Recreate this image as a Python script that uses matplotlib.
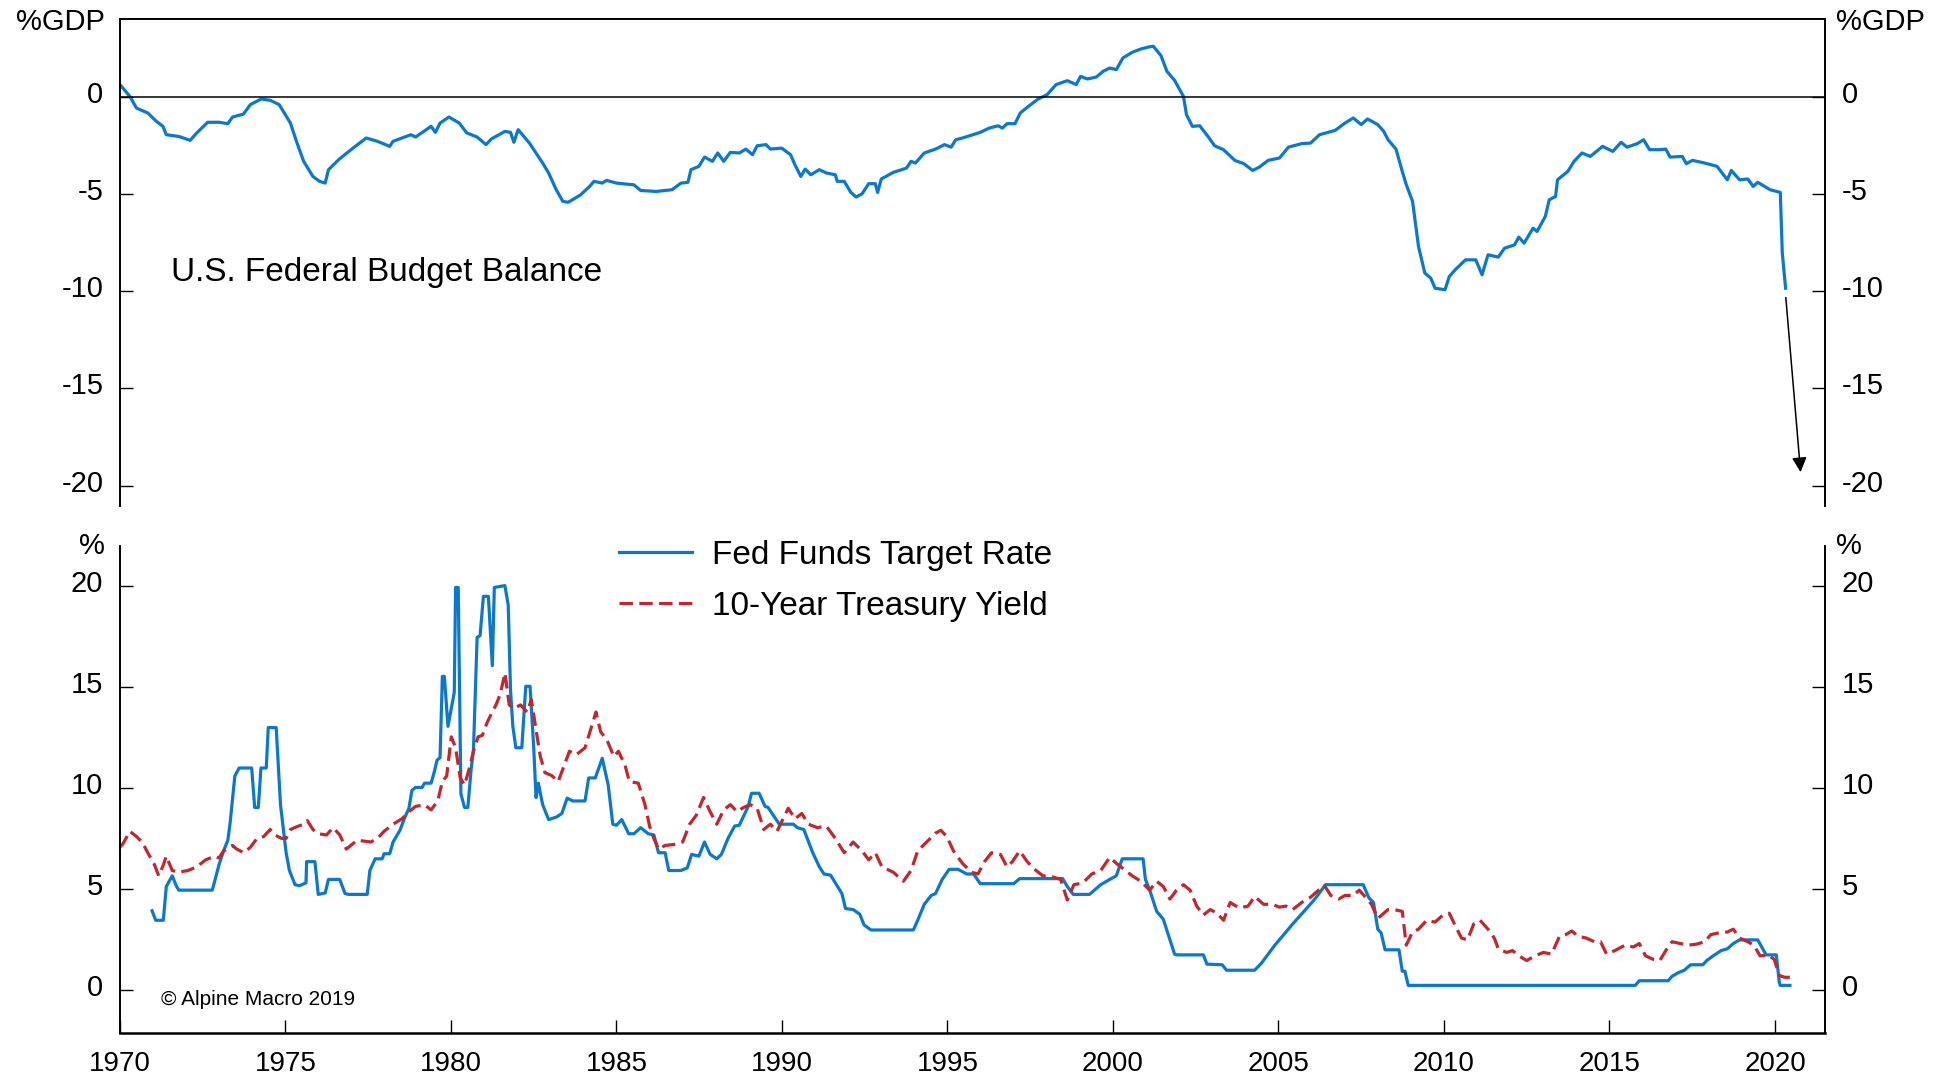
import numpy as np
import matplotlib
matplotlib.use('Agg')
import matplotlib.pyplot as plt
from matplotlib.transforms import ScaledTranslation

plt.rcParams['font.family'] = ['Liberation Sans', 'DejaVu Sans']

# US federal budget balance, % of GDP (12m sum)
budget_year = [1970.03, 1970.3, 1970.5, 1970.84, 1971.1, 1971.3, 1971.4, 1971.78, 1972.12, 1972.32,
               1972.65, 1972.99, 1973.26, 1973.4, 1973.73, 1973.94, 1974.27, 1974.54, 1974.81, 1975.15,
               1975.35, 1975.55, 1975.83, 1976.03, 1976.2, 1976.3, 1976.63, 1977.04, 1977.44, 1977.78,
               1978.15, 1978.25, 1978.79, 1978.93, 1979.4, 1979.53, 1979.67, 1979.94, 1980.25, 1980.48,
               1980.79, 1981.06, 1981.22, 1981.63, 1981.8, 1981.9, 1982.03, 1982.37, 1982.77, 1982.95,
               1983.18, 1983.38, 1983.54, 1983.92, 1984.19, 1984.32, 1984.57, 1984.7, 1985.0, 1985.53,
               1985.73, 1986.2, 1986.68, 1986.95, 1987.16, 1987.25, 1987.49, 1987.66, 1987.9, 1988.06,
               1988.24, 1988.44, 1988.71, 1988.91, 1989.11, 1989.25, 1989.52, 1989.65, 1989.99, 1990.26,
               1990.39, 1990.57, 1990.7, 1990.87, 1991.13, 1991.34, 1991.61, 1991.67, 1991.88, 1992.08,
               1992.24, 1992.42, 1992.62, 1992.82, 1992.89, 1993.0, 1993.36, 1993.76, 1993.9, 1994.03,
               1994.3, 1994.64, 1994.91, 1995.11, 1995.25, 1995.45, 1995.99, 1996.26, 1996.53, 1996.66,
               1996.8, 1997.04, 1997.2, 1997.47, 1997.74, 1998.01, 1998.28, 1998.62, 1998.89, 1999.02,
               1999.23, 1999.5, 1999.7, 1999.9, 2000.1, 2000.3, 2000.58, 2000.84, 2001.09, 2001.22,
               2001.45, 2001.63, 2001.86, 2002.13, 2002.22, 2002.4, 2002.62, 2002.87, 2003.07, 2003.34,
               2003.68, 2003.95, 2004.22, 2004.42, 2004.69, 2005.03, 2005.3, 2005.7, 2005.97, 2006.24,
               2006.71, 2007.01, 2007.26, 2007.5, 2007.69, 2008.0, 2008.18, 2008.31, 2008.55, 2008.74,
               2008.86, 2009.05, 2009.23, 2009.42, 2009.6, 2009.73, 2010.03, 2010.16, 2010.34, 2010.65,
               2010.96, 2011.15, 2011.33, 2011.64, 2011.83, 2012.13, 2012.26, 2012.42, 2012.69, 2012.81,
               2013.06, 2013.18, 2013.37, 2013.43, 2013.74, 2013.93, 2014.17, 2014.42, 2014.79, 2015.1,
               2015.35, 2015.53, 2015.84, 2016.03, 2016.21, 2016.52, 2016.7, 2016.83, 2017.2, 2017.32,
               2017.51, 2017.88, 2018.25, 2018.56, 2018.68, 2018.93, 2019.18, 2019.34, 2019.48, 2019.85,
               2020.16, 2020.22, 2020.32]
budget_val = [0.58, 0.03, -0.57, -0.82, -1.25, -1.51, -1.94, -2.03, -2.23, -1.85,
              -1.30, -1.30, -1.37, -1.03, -0.88, -0.39, -0.10, -0.17, -0.39, -1.34,
              -2.37, -3.31, -4.09, -4.34, -4.43, -3.74, -3.19, -2.63, -2.11, -2.28,
              -2.54, -2.28, -1.94, -2.06, -1.51, -1.82, -1.34, -1.03, -1.34, -1.85,
              -2.06, -2.45, -2.16, -1.77, -1.82, -2.33, -1.68, -2.37, -3.40, -3.91,
              -4.77, -5.37, -5.42, -5.03, -4.60, -4.34, -4.43, -4.29, -4.43, -4.52,
              -4.81, -4.86, -4.77, -4.43, -4.39, -3.74, -3.57, -3.09, -3.31, -2.88,
              -3.31, -2.85, -2.88, -2.68, -2.97, -2.51, -2.45, -2.68, -2.63, -2.97,
              -3.48, -4.09, -3.71, -4.00, -3.74, -3.91, -4.00, -4.34, -4.34, -4.91,
              -5.15, -4.98, -4.46, -4.46, -4.91, -4.22, -3.88, -3.66, -3.31, -3.40,
              -2.88, -2.68, -2.45, -2.58, -2.20, -2.11, -1.82, -1.60, -1.48, -1.60,
              -1.37, -1.37, -0.82, -0.45, -0.10, 0.12, 0.64, 0.84, 0.64, 1.06,
              0.93, 1.03, 1.32, 1.49, 1.41, 2.01, 2.30, 2.47, 2.58, 2.61,
              2.13, 1.32, 0.86, 0.03, -0.91, -1.51, -1.48, -2.03, -2.51, -2.71,
              -3.26, -3.43, -3.78, -3.61, -3.26, -3.14, -2.58, -2.40, -2.37, -1.94,
              -1.72, -1.34, -1.08, -1.42, -1.13, -1.42, -1.77, -2.20, -2.68, -3.83,
              -4.51, -5.37, -7.69, -9.06, -9.32, -9.84, -9.92, -9.24, -8.89, -8.38,
              -8.38, -9.15, -8.12, -8.24, -7.78, -7.61, -7.21, -7.52, -6.75, -6.92,
              -6.15, -5.29, -5.12, -4.26, -3.83, -3.31, -2.88, -3.06, -2.54, -2.80,
              -2.33, -2.58, -2.40, -2.20, -2.71, -2.71, -2.68, -3.09, -3.06, -3.43,
              -3.26, -3.40, -3.57, -4.26, -3.78, -4.26, -4.22, -4.60, -4.39, -4.77,
              -4.91, -8.03, -9.84]

# arrow: projected deficit
arrow_start = (2020.32, -10.18)
arrow_end = (2020.78, -19.45)

# Fed funds target rate, %
ff_year = [1970.97, 1971.08, 1971.31, 1971.4, 1971.58, 1971.71, 1971.78, 1972.79, 1972.99, 1973.13,
           1973.26, 1973.33, 1973.47, 1973.6, 1973.98, 1974.07, 1974.18, 1974.26, 1974.42, 1974.48,
           1974.72, 1974.85, 1975.02, 1975.12, 1975.29, 1975.42, 1975.62, 1975.64, 1975.89, 1975.99,
           1976.2, 1976.3, 1976.64, 1976.8, 1976.91, 1977.47, 1977.55, 1977.71, 1977.92, 1977.98,
           1978.15, 1978.25, 1978.46, 1978.59, 1978.73, 1978.82, 1978.93, 1979.13, 1979.2, 1979.4,
           1979.49, 1979.58, 1979.67, 1979.74, 1979.8, 1979.91, 1980.01, 1980.1, 1980.14, 1980.22,
           1980.3, 1980.41, 1980.51, 1980.61, 1980.68, 1980.79, 1980.88, 1980.98, 1981.13, 1981.25,
           1981.31, 1981.63, 1981.73, 1981.8, 1981.87, 1981.96, 1982.14, 1982.26, 1982.39, 1982.5,
           1982.57, 1982.64, 1982.77, 1982.95, 1983.18, 1983.35, 1983.51, 1983.68, 1984.05, 1984.16,
           1984.36, 1984.57, 1984.75, 1984.89, 1985.0, 1985.16, 1985.37, 1985.53, 1985.73, 1985.96,
           1986.13, 1986.27, 1986.47, 1986.58, 1986.94, 1987.14, 1987.27, 1987.49, 1987.66, 1987.83,
           1988.03, 1988.17, 1988.37, 1988.57, 1988.71, 1988.98, 1989.08, 1989.31, 1989.49, 1989.58,
           1989.92, 1990.35, 1990.46, 1990.66, 1990.93, 1991.13, 1991.27, 1991.47, 1991.81, 1991.92,
           1992.15, 1992.35, 1992.48, 1992.69, 1993.97, 1994.1, 1994.3, 1994.51, 1994.64, 1994.84,
           1995.05, 1995.32, 1995.58, 1995.79, 1995.99, 1997.0, 1997.18, 1998.48, 1998.62, 1998.8,
           1999.29, 1999.5, 1999.63, 1999.9, 2000.1, 2000.28, 2000.91, 2000.98, 2001.11, 2001.32,
           2001.52, 2001.86, 2001.92, 2002.73, 2002.84, 2003.3, 2003.43, 2004.28, 2004.49, 2004.69,
           2004.89, 2005.16, 2005.43, 2005.77, 2006.1, 2006.42, 2007.56, 2007.73, 2007.87, 2008.0,
           2008.1, 2008.22, 2008.64, 2008.74, 2008.82, 2008.92, 2015.78, 2015.9, 2016.77, 2016.89,
           2017.08, 2017.26, 2017.45, 2017.82, 2017.94, 2018.13, 2018.37, 2018.56, 2018.74, 2018.93,
           2019.48, 2019.73, 2020.04, 2020.13, 2020.16, 2020.45]
ff_val = [3.94, 3.47, 3.47, 5.14, 5.67, 5.14, 4.96, 4.96, 6.20, 6.90,
          7.43, 8.31, 10.6, 11.0, 11.0, 9.05, 9.05, 11.0, 11.0, 13.0,
          13.0, 9.19, 6.81, 5.93, 5.23, 5.18, 5.32, 6.37, 6.37, 4.75,
          4.82, 5.49, 5.49, 4.79, 4.75, 4.75, 5.93, 6.51, 6.51, 6.76,
          6.76, 7.34, 7.92, 8.49, 9.01, 9.89, 10.04, 10.04, 10.25, 10.25,
          10.77, 11.39, 11.51, 15.53, 15.53, 13.06, 13.94, 14.74, 19.93, 19.93,
          9.72, 9.05, 9.05, 10.95, 11.92, 17.46, 17.55, 19.49, 19.49, 16.06,
          19.93, 20.02, 19.05, 14.82, 13.06, 12.0, 12.0, 15.04, 15.04, 12.0,
          9.54, 10.25, 9.19, 8.45, 8.57, 8.75, 9.51, 9.37, 9.37, 10.51,
          10.51, 11.48, 10.16, 8.22, 8.17, 8.45, 7.75, 7.75, 8.05, 7.75,
          7.69, 6.81, 6.81, 5.93, 5.93, 6.06, 6.73, 6.64, 7.34, 6.73,
          6.51, 6.73, 7.52, 8.13, 8.17, 9.1, 9.75, 9.75, 9.1, 9.05,
          8.22, 8.22, 8.05, 7.96, 6.81, 6.11, 5.76, 5.70, 4.79, 4.05,
          4.0, 3.77, 3.24, 2.99, 2.99, 3.47, 4.26, 4.70, 4.79, 5.49,
          5.99, 5.99, 5.76, 5.76, 5.28, 5.28, 5.53, 5.53, 5.14, 4.75,
          4.75, 5.05, 5.23, 5.49, 5.67, 6.51, 6.51, 5.49, 4.96, 3.91,
          3.52, 1.80, 1.76, 1.76, 1.30, 1.27, 1.0, 1.0, 1.36, 1.80,
          2.24, 2.76, 3.29, 3.91, 4.52, 5.23, 5.23, 4.58, 4.35, 3.03,
          2.85, 2.01, 2.01, 0.95, 0.95, 0.25, 0.25, 0.48, 0.48, 0.70,
          0.88, 1.0, 1.27, 1.27, 1.48, 1.71, 1.97, 2.06, 2.32, 2.5,
          2.5, 1.76, 1.76, 0.39, 0.25, 0.25]

# 10-year Treasury yield, %
ty_year = [1970.0, 1970.09, 1970.3, 1970.5, 1970.67, 1970.84, 1971.04, 1971.17, 1971.31, 1971.4,
           1971.58, 1971.78, 1972.05, 1972.32, 1972.59, 1972.86, 1972.99, 1973.13, 1973.4, 1973.53,
           1973.74, 1973.94, 1974.14, 1974.34, 1974.54, 1974.68, 1974.88, 1975.02, 1975.15, 1975.35,
           1975.55, 1975.66, 1975.83, 1975.99, 1976.24, 1976.44, 1976.64, 1976.84, 1976.97, 1977.17,
           1977.58, 1977.78, 1977.98, 1978.25, 1978.52, 1978.73, 1978.93, 1979.2, 1979.4, 1979.6,
           1979.74, 1979.87, 1980.01, 1980.14, 1980.28, 1980.41, 1980.55, 1980.68, 1980.82, 1980.95,
           1981.09, 1981.22, 1981.36, 1981.49, 1981.63, 1981.76, 1981.9, 1982.1, 1982.3, 1982.43,
           1982.57, 1982.7, 1982.84, 1983.04, 1983.24, 1983.4, 1983.58, 1983.78, 1984.05, 1984.25,
           1984.38, 1984.52, 1984.72, 1984.92, 1985.06, 1985.26, 1985.39, 1985.66, 1985.86, 1986.0,
           1986.13, 1986.27, 1986.47, 1986.74, 1987.0, 1987.21, 1987.41, 1987.63, 1987.83, 1988.03,
           1988.24, 1988.44, 1988.64, 1988.84, 1989.04, 1989.25, 1989.45, 1989.65, 1989.85, 1990.06,
           1990.19, 1990.39, 1990.6, 1990.8, 1991.07, 1991.34, 1991.61, 1991.88, 1992.15, 1992.42,
           1992.62, 1992.82, 1993.02, 1993.36, 1993.67, 1993.9, 1994.1, 1994.37, 1994.64, 1994.8,
           1994.98, 1995.18, 1995.45, 1995.72, 1995.92, 1996.12, 1996.33, 1996.6, 1996.8, 1996.96,
           1997.18, 1997.41, 1997.61, 1997.88, 1998.15, 1998.42, 1998.62, 1998.82, 1999.09, 1999.36,
           1999.63, 1999.9, 2000.1, 2000.31, 2000.58, 2000.84, 2001.11, 2001.32, 2001.52, 2001.72,
           2001.92, 2002.13, 2002.33, 2002.53, 2002.73, 2002.94, 2003.14, 2003.34, 2003.54, 2003.81,
           2004.08, 2004.28, 2004.55, 2004.82, 2005.02, 2005.23, 2005.43, 2005.7, 2005.97, 2006.21,
           2006.39, 2006.58, 2006.82, 2007.01, 2007.26, 2007.44, 2007.63, 2007.81, 2008.0, 2008.12,
           2008.31, 2008.49, 2008.74, 2008.86, 2009.05, 2009.23, 2009.48, 2009.73, 2009.97, 2010.16,
           2010.34, 2010.53, 2010.71, 2010.9, 2011.09, 2011.33, 2011.52, 2011.64, 2011.89, 2012.07,
           2012.26, 2012.5, 2012.75, 2013.0, 2013.25, 2013.49, 2013.68, 2013.86, 2014.05, 2014.3,
           2014.54, 2014.73, 2014.91, 2015.16, 2015.47, 2015.72, 2015.9, 2016.09, 2016.33, 2016.52,
           2016.7, 2016.89, 2017.14, 2017.38, 2017.63, 2017.88, 2018.06, 2018.31, 2018.56, 2018.74,
           2018.93, 2019.18, 2019.36, 2019.55, 2019.8, 2019.98, 2020.13, 2020.29, 2020.45]
ty_val = [7.08, 7.25, 7.87, 7.61, 7.34, 6.81, 6.23, 5.67, 6.20, 6.64,
          5.93, 5.85, 5.93, 6.11, 6.46, 6.64, 6.55, 6.90, 7.17, 6.99,
          6.81, 7.08, 7.52, 7.61, 7.96, 7.69, 7.52, 7.52, 7.96, 8.10,
          8.22, 8.40, 7.96, 7.75, 7.69, 8.05, 7.69, 6.99, 7.17, 7.43,
          7.34, 7.52, 7.87, 8.22, 8.49, 8.84, 9.10, 9.19, 8.93, 9.37,
          10.33, 10.6, 12.54, 12.0, 10.51, 10.16, 10.95, 11.83, 12.54, 12.62,
          13.24, 13.68, 14.12, 14.65, 15.7, 14.12, 13.94, 14.12, 13.77, 14.38,
          12.89, 11.57, 10.77, 10.63, 10.33, 11.04, 11.83, 11.65, 12.0, 13.06,
          13.77, 12.80, 12.36, 11.57, 11.83, 11.13, 10.33, 10.25, 9.19, 8.13,
          7.52, 6.99, 7.17, 7.22, 7.34, 8.22, 8.66, 9.54, 8.84, 8.22,
          8.93, 9.19, 8.84, 9.05, 9.19, 9.01, 7.96, 8.22, 7.87, 8.57,
          9.01, 8.49, 8.75, 8.22, 8.05, 8.13, 7.52, 6.81, 7.34, 6.90,
          6.46, 6.81, 6.11, 5.85, 5.40, 5.93, 6.90, 7.34, 7.78, 7.92,
          7.61, 6.90, 6.29, 5.85, 5.76, 6.37, 6.81, 6.73, 6.11, 6.37,
          6.90, 6.37, 6.02, 5.67, 5.63, 5.49, 4.47, 5.23, 5.32, 5.76,
          5.93, 6.58, 6.29, 6.02, 5.67, 5.40, 4.96, 5.40, 5.14, 4.52,
          4.96, 5.23, 4.96, 4.17, 3.73, 4.0, 3.82, 3.47, 4.35, 4.08,
          4.17, 4.65, 4.26, 4.26, 4.12, 4.17, 4.0, 4.35, 4.61, 4.96,
          5.18, 4.70, 4.52, 4.70, 4.70, 4.96, 4.61, 4.26, 3.56, 3.73,
          4.0, 4.0, 3.91, 2.24, 2.89, 3.03, 3.47, 3.38, 3.73, 3.82,
          3.20, 2.59, 2.50, 3.29, 3.47, 3.03, 2.59, 2.06, 1.88, 1.97,
          1.71, 1.48, 1.71, 1.88, 1.80, 2.68, 2.76, 2.94, 2.68, 2.59,
          2.41, 2.41, 1.80, 1.97, 2.24, 2.15, 2.32, 1.71, 1.53, 1.48,
          1.97, 2.41, 2.32, 2.24, 2.29, 2.41, 2.76, 2.85, 2.89, 3.03,
          2.59, 2.41, 2.24, 1.71, 1.76, 1.53, 0.74, 0.65, 0.65]

top_ticks = [0, -5, -10, -15, -20]
bottom_ticks = [0, 5, 10, 15, 20]
year_ticks = [1970, 1975, 1980, 1985, 1990, 1995, 2000, 2005, 2010, 2015, 2020]

blue = '#0B78CF'
red = '#C1272D'

fig = plt.figure(figsize=(19.41, 10.78), dpi=100)
ax1 = fig.add_axes([0.0618, 0.5306, 0.8786, 0.4515])
ax2 = fig.add_axes([0.0618, 0.0422, 0.8786, 0.4517])

# --- top panel
ax1.plot(budget_year, budget_val, color=blue, lw=2.3, solid_joinstyle='round')
ax1.axhline(0, color='black', lw=1.1)
ax1.annotate('', xy=arrow_end, xytext=arrow_start,
             arrowprops=dict(arrowstyle='-|>', color='black', lw=1.1, mutation_scale=22))
ax1.set_xlim(1970, 2021.52)
ax1.set_ylim(-21.05, 4.0)
ax1.set_yticks(top_ticks)
ax1.set_yticklabels([str(t) for t in top_ticks])
ax1.set_xticks([])
ax1.spines['bottom'].set_visible(False)
ax1.text(0.030, 0.479, 'U.S. Federal Budget Balance', transform=ax1.transAxes,
         fontsize=24, va='center', ha='left')

# --- bottom panel
ax2.plot(ff_year, ff_val, color=blue, lw=2.3, label='Fed Funds Target Rate')
ax2.plot(ty_year, ty_val, color=red, lw=2.3, dashes=(4.2, 2.0), label='10-Year Treasury Yield')
ax2.set_xlim(1970, 2021.52)
ax2.set_ylim(-2.08, 22.0)
ax2.set_yticks(bottom_ticks)
ax2.set_yticklabels([str(t) for t in bottom_ticks])
ax2.set_xticks(year_ticks)
ax2.set_xticklabels([str(t) for t in year_ticks])
ax2.spines['top'].set_visible(False)
ax2.spines['bottom'].set_linewidth(1.8)
ax2.text(0.024, 0.067, '\u00a9 Alpine Macro 2019', transform=ax2.transAxes,
         fontsize=15, va='center', ha='left')
ax2.legend(loc='upper left', bbox_to_anchor=(0.2927, 1.012), frameon=False, fontsize=24,
           handlelength=2.2, handletextpad=0.6, labelspacing=0.6, borderpad=0, borderaxespad=0)

# y tick labels sit a little above their ticks
lift = ScaledTranslation(0, 0.05, fig.dpi_scale_trans)
for ax in (ax1, ax2):
    for side in ('left', 'right', 'top', 'bottom'):
        ax.spines[side].set_color('black')
    ax.spines['left'].set_linewidth(1.4)
    ax.spines['right'].set_linewidth(1.4)
    ax.tick_params(axis='y', which='both', direction='in', length=9.5, width=1,
                   left=True, right=True, labelleft=True, labelright=True,
                   labelsize=21, pad=12)
    ax.tick_params(axis='x', direction='in', length=9.5, width=1, labelsize=20, pad=13)
    for t in ax.yaxis.get_major_ticks():
        t.label1.set_transform(t.label1.get_transform() + lift)
        t.label2.set_transform(t.label2.get_transform() + lift)
ax1.spines['top'].set_linewidth(1.4)

# axis unit labels
fig.text(105 / 1941, 1 - 22 / 1078, '%GDP', ha='right', va='center', fontsize=21)
fig.text(1836 / 1941, 1 - 22 / 1078, '%GDP', ha='left', va='center', fontsize=21)
fig.text(105 / 1941, 1 - 546 / 1078, '%', ha='right', va='center', fontsize=21)
fig.text(1836 / 1941, 1 - 546 / 1078, '%', ha='left', va='center', fontsize=21)

fig.savefig('out.png', dpi=100)
